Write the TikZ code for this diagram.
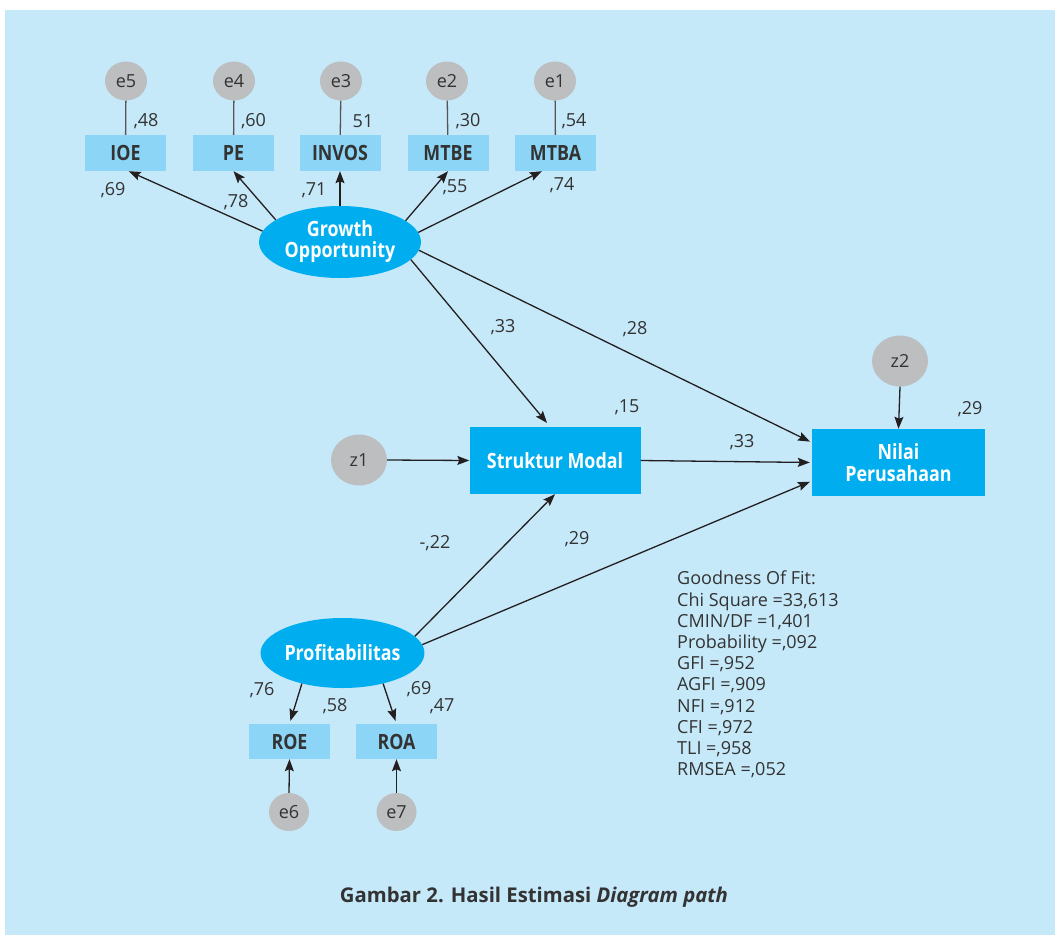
\documentclass[tikz,border=0pt]{standalone}
\usepackage{fontspec}
\setmainfont{Open Sans}
\newfontfamily\condf[FakeStretch=0.85]{Open Sans}
\usetikzlibrary{arrows.meta,shapes.geometric}
\definecolor{bgc}{HTML}{C6E9FA}
\definecolor{boxlight}{HTML}{8CD5F6}
\definecolor{cyanc}{HTML}{00AEEF}
\definecolor{errgray}{HTML}{BDBEC0}
\definecolor{linec}{HTML}{231F20}
\definecolor{txt}{HTML}{333333}
\definecolor{gline}{HTML}{555555}
\tikzset{
  err/.style={ellipse, fill=errgray, minimum width=42pt, minimum height=39pt, inner sep=0pt,
    font=\fontsize{18}{18}\selectfont, text=txt},
  obs/.style={rectangle, fill=boxlight, minimum width=81pt, minimum height=36pt, inner sep=0pt,
    font=\condf\bfseries\fontsize{21}{22}\selectfont, text=txt},
  lat/.style={ellipse, fill=cyanc, text=white, align=center, inner sep=0pt,
    font=\condf\bfseries\fontsize{21}{21}\selectfont},
  endo/.style={rectangle, fill=cyanc, text=white, align=center, inner sep=0pt,
    font=\condf\bfseries\fontsize{21}{22}\selectfont},
  lbl/.style={font=\fontsize{18}{18}\selectfont, text=txt, inner sep=0pt},
  arr/.style={-{Stealth[length=12pt,width=9pt,inset=2pt]}, line width=1.3pt, draw=linec},
  conn/.style={line width=1.3pt, draw=gline}
}
\begin{document}
\begin{tikzpicture}[x=1pt,y=-1pt]
\useasboundingbox (0,0) rectangle (1055,935);
\fill[bgc] (5,10) rectangle (1055,935);

% error terms top
\node[err] (e5) at (126,81) {e5};
\node[err] (e4) at (234,81) {e4};
\node[err] (e3) at (341,81) {e3};
\node[err] (e2) at (447,81) {e2};
\node[err] (e1) at (555,81) {e1};

% indicators
\node[obs] (ioe) at (125.5,153) {IOE};
\node[obs] (pe) at (233.5,153) {PE};
\node[obs] (invos) at (340,153) {INVOS};
\node[obs] (mtbe) at (448,153) {MTBE};
\node[obs] (mtba) at (555.5,153) {MTBA};

\draw[conn] (e5) -- (ioe);
\draw[conn] (e4) -- (pe);
\draw[conn] (e3) -- (invos);
\draw[conn] (e2) -- (mtbe);
\draw[conn] (e1) -- (mtba);

% latent
\node[lat, minimum width=162pt, minimum height=72pt] (go) at (340,242) {Growth\\Opportunity};
\node[lat, minimum width=160pt, minimum height=70pt] (prof) at (342.5,653) {Profitabilitas};

% endogenous
\node[endo, minimum width=171pt, minimum height=67pt] (sm) at (555,460.5) {Struktur Modal};
\node[endo, minimum width=173pt, minimum height=67pt] (np) at (898.5,462.5) {Nilai\\Perusahaan};
\node[err, minimum width=56pt, minimum height=51pt] (z1) at (359,460) {z1};
\node[err, minimum width=56pt, minimum height=51pt] (z2) at (900,361) {z2};

% ROE ROA
\node[obs, minimum height=35pt] (roe) at (289.5,741.5) {ROE};
\node[obs, minimum height=35pt] (roa) at (396.5,741.5) {ROA};
\node[err, minimum width=40pt, minimum height=38pt] (e6) at (289,812) {e6};
\node[err, minimum width=40pt, minimum height=38pt] (e7) at (396.5,812) {e7};

% arrows from GO to indicators
\draw[arr] (go.172.8) -- (ioe.-80);
\draw[arr] (go.161.8) -- (pe.south);
\draw[arr] (go.90) -- (invos.south);
\draw[arr] (go.18) -- (mtbe.south);
\draw[arr] (go.7.2) -- (mtba.-127);

% structural
\draw[arr, shorten >=5pt] (go.-14.6) -- (sm.98.5);
\draw[arr, shorten >=2pt] (go.-6.6) -- (np.167.3);
\draw[arr, shorten >=2pt] (sm.east) -- (np.west);
\draw[arr, shorten >=2pt] (prof.6.5) -- (np.192);
\draw[arr] (prof.13.6) -- (sm.south);
\draw[arr] (z1.east) -- (sm.west);
\draw[arr] (z2.south) -- (np.north);

\draw[arr, shorten >=3pt] (prof.217) -- (roe.north);
\draw[arr, shorten >=3pt] (prof.-37.4) -- (roa.north);
\draw[arr] (e6.north) -- (roe.south);
\draw[arr] (e7.north) -- (roa.south);

% labels
\node[lbl] (l48) at (146,121) {,48};
\node[lbl] (l60) at (253.5,121) {,60};
\node[lbl] (l51) at (363,121) {51};
\node[lbl] (l30) at (468,121) {,30};
\node[lbl] (l54) at (574,121) {,54};
\node[lbl] (l69) at (113,190) {,69};
\node[lbl] (l78) at (236,202) {,78};
\node[lbl] (l71) at (314,190) {,71};
\node[lbl] (l55) at (455,187) {,55};
\node[lbl] (l74) at (562,185) {,74};
\node[lbl] (l33a) at (503,327) {,33};
\node[lbl] (l28) at (635,329) {,28};
\node[lbl] (l15) at (627,407) {,15};
\node[lbl] (l33b) at (742,442) {,33};
\node[lbl] (l29a) at (970,409) {,29};
\node[lbl] (l22) at (435,543) {-,22};
\node[lbl] (l29b) at (577,539) {,29};
\node[lbl] (l76) at (262,690) {,76};
\node[lbl] (l58) at (335,706) {,58};
\node[lbl] (l69b) at (419,689) {,69};
\node[lbl] (l47) at (442,706) {,47};

% goodness of fit
\node[lbl, anchor=north west, align=left, font=\fontsize{18}{21.2}\selectfont] (gof) at (677,571)
{Goodness Of Fit:\\Chi Square =33,613\\CMIN/DF =1,401\\Probability =,092\\GFI =,952\\AGFI =,909\\NFI =,912\\CFI =,972\\TLI =,958\\RMSEA =,052};

% caption
\node[text=txt, font=\bfseries\fontsize{20.3}{20.3}\selectfont, inner sep=0pt] (cap) at (534,897)
{Gambar 2. Hasil Estimasi \textit{Diagram path}};
\end{tikzpicture}
\end{document}
